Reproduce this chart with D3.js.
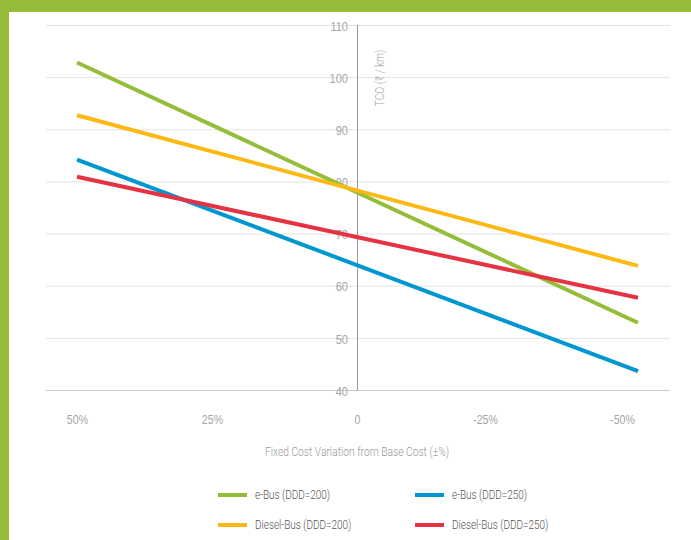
<!DOCTYPE html>
<html>
<head>
<meta charset="utf-8">
<script src="https://cdn.jsdelivr.net/npm/d3@7"></script>
<style>
  html, body { margin: 0; padding: 0; background: #fff; }
  svg { display: block; font-family: Roboto, "Liberation Sans", sans-serif; font-weight: 300; }
</style>
</head>
<body>
<svg id="chart" width="691" height="540"></svg>
<script>
// Fixed cost variation (±%) at the ends of each sensitivity line
const variation = [50, -50];
const tickValues = [50, 25, 0, -25, -50];
const tickLabels = ["50%", "25%", "0", "-25%", "-50%"];
const yTicks = [40, 50, 60, 70, 80, 90, 100, 110];

// TCO (₹ / km) for each series at +50% and -50%
const eBus200 = [102.8, 52.9];
const eBus250 = [84.2, 43.6];
const diesel200 = [92.7, 63.8];
const diesel250 = [80.9, 57.7];

const seriesNames = ["e-Bus (DDD=200)", "e-Bus (DDD=250)", "Diesel-Bus (DDD=200)", "Diesel-Bus (DDD=250)"];
const seriesColors = ["#96bd3a", "#0097d1", "#fdb913", "#e63343"];
const seriesValues = [eBus200, eBus250, diesel200, diesel250];

// narrow text, condensed horizontally
const SQ = "scale(0.85,1)";

const svg = d3.select("#chart");

// frame band along the top and left edges
svg.append("rect").attr("x", 0).attr("y", 0).attr("width", 691).attr("height", 12).attr("fill", "#96bd3a");
svg.append("rect").attr("x", 0).attr("y", 0).attr("width", 9).attr("height", 540).attr("fill", "#96bd3a");

const y = d3.scaleLinear().domain([40, 110]).range([390, 25]);
const xLine = d3.scaleLinear().domain([50, -50]).range([77, 638]);
const xTick = d3.scaleLinear().domain([50, 25, 0, -25, -50]).range([77, 212, 357, 485, 622]);

// horizontal gridlines across the full width
const gridAxis = d3.axisLeft(y).tickValues(yTicks).tickSize(-(670 - 46)).tickFormat("");
const grid = svg.append("g").attr("transform", "translate(46,0)").call(gridAxis);
grid.select(".domain").remove();
grid.selectAll(".tick line").attr("stroke", d => d === 40 ? "#c8c8c8" : "#e3e3e3").attr("stroke-width", 1);

// vertical axis at zero variation
svg.append("line").attr("x1", 357.5).attr("x2", 357.5).attr("y1", y(110)).attr("y2", y(40))
  .attr("stroke", "#999").attr("stroke-width", 1);

// y tick labels sitting on the gridlines
const yAxis = d3.axisLeft(y).tickValues(yTicks).tickSize(0).tickPadding(0);
const yg = svg.append("g").attr("transform", "translate(348,0)").call(yAxis);
yg.select(".domain").remove();
yg.selectAll("text").attr("fill", "#a5a5a5").attr("font-size", 13).attr("font-family", null)
  .attr("dy", "0.4em").attr("transform", SQ);

// y axis title
svg.append("text").attr("transform", `translate(384,78) rotate(-90) ${SQ}`)
  .attr("text-anchor", "middle").attr("fill", "#a5a5a5").attr("font-size", 12)
  .text("TCO (₹ / km)");

// x tick labels
const xAxis = d3.axisBottom(xTick).tickValues(tickValues).tickSize(0).tickPadding(0)
  .tickFormat((d, i) => tickLabels[i]);
const xg = svg.append("g").attr("transform", "translate(0,415)").call(xAxis);
xg.select(".domain").remove();
xg.selectAll("text").attr("fill", "#a5a5a5").attr("font-size", 12.5).attr("font-family", null)
  .attr("transform", SQ);

// x axis title
svg.append("g").attr("transform", "translate(357,456) scale(0.855,1)")
  .append("text").attr("text-anchor", "middle")
  .attr("fill", "#999").attr("font-size", 12)
  .text("Fixed Cost Variation from Base Cost (±%)");

// series lines
const line = d3.line().x(d => xLine(d.x)).y(d => y(d.v));
const drawOrder = [0, 1, 2, 3];
svg.append("g").selectAll("path").data(drawOrder).join("path")
  .attr("d", i => line(variation.map((x, j) => ({ x, v: seriesValues[i][j] }))))
  .attr("fill", "none").attr("stroke", i => seriesColors[i]).attr("stroke-width", 4);

// legend: two columns, two rows
const legendPos = [[218, 495], [415, 495], [218, 525], [415, 525]];
const lg = svg.append("g").selectAll("g").data(seriesNames).join("g")
  .attr("transform", (d, i) => `translate(${legendPos[i][0]},${legendPos[i][1]})`);
lg.append("rect").attr("x", 0).attr("y", -2).attr("width", 29).attr("height", 4)
  .attr("fill", (d, i) => seriesColors[i]);
lg.append("text").attr("transform", "translate(37,0) scale(0.83,1)").attr("dy", "0.35em")
  .attr("fill", "#555").attr("font-size", 12).text(d => d);
</script>
</body>
</html>
